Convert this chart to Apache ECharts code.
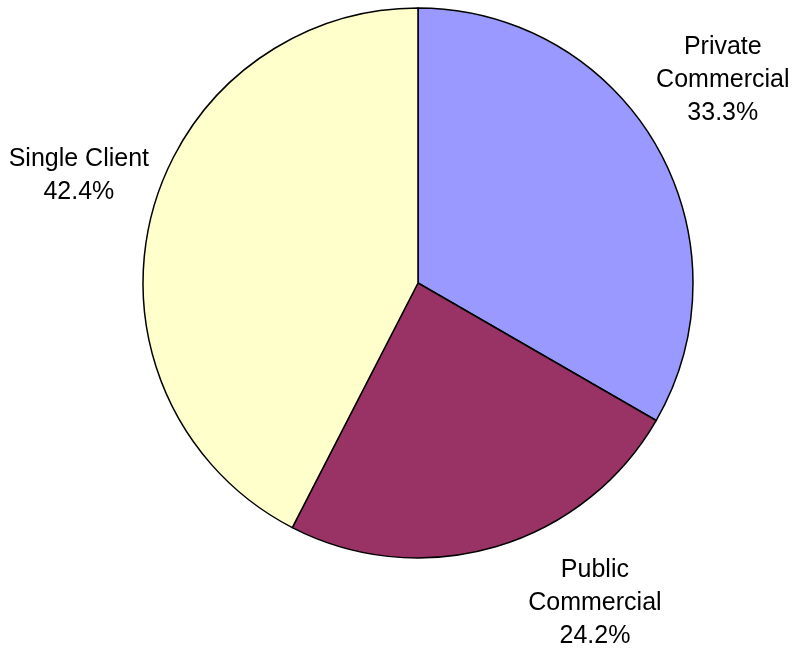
<!DOCTYPE html>
<html>
<head>
<meta charset="utf-8">
<script src="https://cdn.jsdelivr.net/npm/echarts@6/dist/echarts.min.js"></script>
<style>
html, body { margin: 0; padding: 0; background: #fff; }
#main { width: 794px; height: 648px; }
</style>
</head>
<body>
<div id="main"></div>
<script>
// slices, clockwise from 12 o'clock
const categories = ['Private\nCommercial', 'Public\nCommercial', 'Single Client'];
const shares = [33.3, 24.2, 42.4];
const colors = ['#9999FF', '#993366', '#FFFFCC'];
// small nudges so labels sit where the original placed them
const labelNudge = [[27, -45], [83, 18], [-28, -33]];

const myChart = echarts.init(document.getElementById('main'));

const option = {
    animation: false,
    series: [{
        type: 'pie',
        center: [418, 283],
        radius: 275,
        startAngle: 90,
        clockwise: true,
        avoidLabelOverlap: false,
        itemStyle: {
            borderColor: '#000',
            borderWidth: 1.5
        },
        label: {
            show: true,
            position: 'outside',
            formatter: '{b}\n{c}%',
            fontFamily: 'Liberation Sans, Arial, sans-serif',
            fontSize: 25,
            lineHeight: 33,
            color: '#000'
        },
        labelLine: { show: false, length: 40, length2: 0 },
        labelLayout: function (params) {
            const n = labelNudge[params.dataIndex];
            return { align: 'center', verticalAlign: 'middle', dx: n[0], dy: n[1] };
        },
        data: categories.map((name, i) => ({
            name: name,
            value: shares[i],
            itemStyle: { color: colors[i] }
        }))
    }]
};

myChart.setOption(option);
</script>
</body>
</html>
